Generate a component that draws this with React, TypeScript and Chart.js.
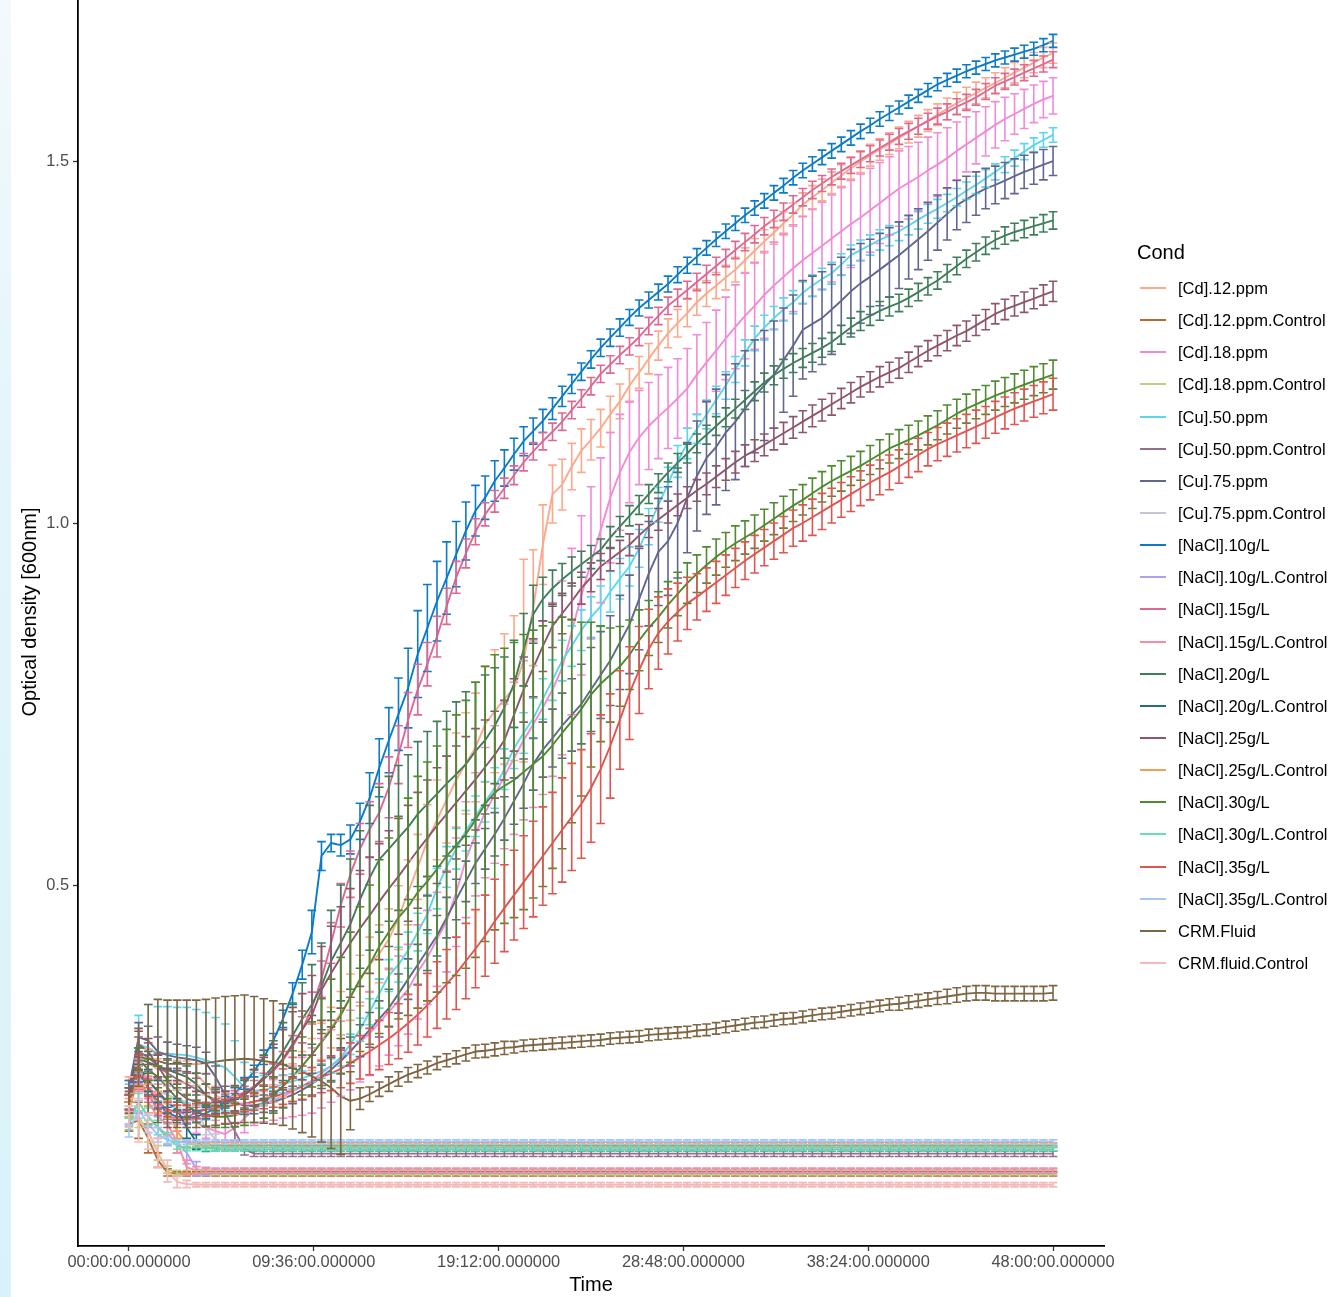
import React, { useEffect, useRef } from "react";
import { Chart, registerables } from "chart.js";

Chart.register(...registerables);

// ---------------- data ----------------
const hours = [
  0, 0.5, 1, 1.5, 2, 2.5, 3, 3.5, 4, 4.5,
  5, 5.5, 6, 6.5, 7, 7.5, 8, 8.5, 9, 9.5,
  10, 10.5, 11, 11.5, 12, 12.5, 13, 13.5, 14, 14.5,
  15, 15.5, 16, 16.5, 17, 17.5, 18, 18.5, 19, 19.5,
  20, 20.5, 21, 21.5, 22, 22.5, 23, 23.5, 24, 24.5,
  25, 25.5, 26, 26.5, 27, 27.5, 28, 28.5, 29, 29.5,
  30, 30.5, 31, 31.5, 32, 32.5, 33, 33.5, 34, 34.5,
  35, 35.5, 36, 36.5, 37, 37.5, 38, 38.5, 39, 39.5,
  40, 40.5, 41, 41.5, 42, 42.5, 43, 43.5, 44, 44.5,
  45, 45.5, 46, 46.5, 47, 47.5, 48,
];

const xTickHours = [0, 9.6, 19.2, 28.8, 38.4, 48];
const xTickLabels = [
  "00:00:00.000000",
  "09:36:00.000000",
  "19:12:00.000000",
  "28:48:00.000000",
  "38:24:00.000000",
  "48:00:00.000000",
];
const yTickValues = [0.5, 1.0, 1.5];
const yTickLabels = ["0.5", "1.0", "1.5"];

const conditions = [
  "[Cd].12.ppm",
  "[Cd].12.ppm.Control",
  "[Cd].18.ppm",
  "[Cd].18.ppm.Control",
  "[Cu].50.ppm",
  "[Cu].50.ppm.Control",
  "[Cu].75.ppm",
  "[Cu].75.ppm.Control",
  "[NaCl].10g/L",
  "[NaCl].10g/L.Control",
  "[NaCl].15g/L",
  "[NaCl].15g/L.Control",
  "[NaCl].20g/L",
  "[NaCl].20g/L.Control",
  "[NaCl].25g/L",
  "[NaCl].25g/L.Control",
  "[NaCl].30g/L",
  "[NaCl].30g/L.Control",
  "[NaCl].35g/L",
  "[NaCl].35g/L.Control",
  "CRM.Fluid",
  "CRM.fluid.Control",
];

const colors = [
  "#FCA98B", "#B8692F", "#F28AD6", "#C2CF83", "#5CD5EF", "#936F8F",
  "#62678F", "#C3C6D9", "#0B7BC9", "#A9A3F1", "#DE6892", "#FC8AA3",
  "#3E7E5A", "#22707F", "#8E566B", "#EFA253", "#4F8A2E", "#63DFB2",
  "#DF5651", "#A3C6F6", "#7E6643", "#F4B9B8",
];

// optical density values (one value per half hour)
const cd12 = [
  0.22, 0.27, 0.255, 0.245, 0.243, 0.243, 0.242, 0.238, 0.225, 0.21,
  0.202, 0.198, 0.198, 0.2, 0.205, 0.212, 0.222, 0.235, 0.25, 0.266,
  0.284, 0.303, 0.323, 0.345, 0.368, 0.39, 0.405, 0.425, 0.455, 0.49,
  0.525, 0.561, 0.59, 0.618, 0.645, 0.668, 0.69, 0.722, 0.74, 0.757,
  0.772, 0.81, 0.883, 0.97, 1.04, 1.053, 1.078, 1.1, 1.115, 1.131,
  1.15, 1.168, 1.19, 1.208, 1.227, 1.245, 1.262, 1.276, 1.29, 1.305,
  1.317, 1.328, 1.339, 1.35, 1.363, 1.376, 1.389, 1.401, 1.414, 1.426,
  1.44, 1.45, 1.46, 1.47, 1.48, 1.49, 1.499, 1.508, 1.516, 1.524,
  1.532, 1.54, 1.548, 1.556, 1.564, 1.572, 1.58, 1.587, 1.594, 1.601,
  1.608, 1.615, 1.622, 1.629, 1.636, 1.643, 1.649,
];
const cd12Ctrl = [
  0.17, 0.175, 0.15, 0.12, 0.103, 0.101, 0.101, 0.101, 0.101, 0.101,
  0.101, 0.101, 0.101, 0.101, 0.101, 0.101, 0.101, 0.101, 0.101, 0.101,
  0.101, 0.101, 0.101, 0.101, 0.101, 0.101, 0.101, 0.101, 0.101, 0.101,
  0.101, 0.101, 0.101, 0.101, 0.101, 0.101, 0.101, 0.101, 0.101, 0.101,
  0.101, 0.101, 0.101, 0.101, 0.101, 0.101, 0.101, 0.101, 0.101, 0.101,
  0.101, 0.101, 0.101, 0.101, 0.101, 0.101, 0.101, 0.101, 0.101, 0.101,
  0.101, 0.101, 0.101, 0.101, 0.101, 0.101, 0.101, 0.101, 0.101, 0.101,
  0.101, 0.101, 0.101, 0.101, 0.101, 0.101, 0.101, 0.101, 0.101, 0.101,
  0.101, 0.101, 0.101, 0.101, 0.101, 0.101, 0.101, 0.101, 0.101, 0.101,
  0.101, 0.101, 0.101, 0.101, 0.101, 0.101, 0.101,
];
const cd18 = [
  0.2, 0.24, 0.22, 0.21, 0.2, 0.19, 0.18, 0.172, 0.165, 0.16,
  0.156, 0.165, 0.178, 0.19, 0.198, 0.203, 0.208, 0.215, 0.222, 0.23,
  0.24, 0.25, 0.26, 0.272, 0.283, 0.295, 0.31, 0.325, 0.34, 0.356,
  0.38, 0.4, 0.425, 0.45, 0.49, 0.535, 0.57, 0.6, 0.625, 0.65,
  0.675, 0.7, 0.722, 0.745, 0.77, 0.8, 0.85, 0.9, 0.945, 0.99,
  1.035, 1.07, 1.098, 1.118, 1.134, 1.147, 1.159, 1.172, 1.186, 1.205,
  1.222, 1.238, 1.255, 1.271, 1.286, 1.3, 1.315, 1.328, 1.34, 1.352,
  1.363, 1.373, 1.383, 1.393, 1.403, 1.413, 1.422, 1.432, 1.442, 1.452,
  1.462, 1.47, 1.478, 1.487, 1.495, 1.504, 1.514, 1.523, 1.532, 1.541,
  1.55, 1.558, 1.565, 1.572, 1.579, 1.585, 1.59,
];
const cd18Ctrl = [
  0.175, 0.18, 0.16, 0.13, 0.107, 0.103, 0.103, 0.103, 0.103, 0.103,
  0.103, 0.103, 0.103, 0.103, 0.103, 0.103, 0.103, 0.103, 0.103, 0.103,
  0.103, 0.103, 0.103, 0.103, 0.103, 0.103, 0.103, 0.103, 0.103, 0.103,
  0.103, 0.103, 0.103, 0.103, 0.103, 0.103, 0.103, 0.103, 0.103, 0.103,
  0.103, 0.103, 0.103, 0.103, 0.103, 0.103, 0.103, 0.103, 0.103, 0.103,
  0.103, 0.103, 0.103, 0.103, 0.103, 0.103, 0.103, 0.103, 0.103, 0.103,
  0.103, 0.103, 0.103, 0.103, 0.103, 0.103, 0.103, 0.103, 0.103, 0.103,
  0.103, 0.103, 0.103, 0.103, 0.103, 0.103, 0.103, 0.103, 0.103, 0.103,
  0.103, 0.103, 0.103, 0.103, 0.103, 0.103, 0.103, 0.103, 0.103, 0.103,
  0.103, 0.103, 0.103, 0.103, 0.103, 0.103, 0.103,
];
const cu50 = [
  0.21, 0.28, 0.275, 0.267, 0.267, 0.266, 0.265, 0.262, 0.258, 0.253,
  0.248, 0.235, 0.22, 0.216, 0.217, 0.22, 0.225, 0.229, 0.233, 0.238,
  0.243, 0.25, 0.262, 0.28, 0.3, 0.325, 0.35, 0.375, 0.39, 0.41,
  0.435, 0.46, 0.495, 0.525, 0.55, 0.575, 0.595, 0.615, 0.634, 0.66,
  0.689, 0.71, 0.73, 0.757, 0.783, 0.81, 0.83, 0.852, 0.87, 0.885,
  0.905, 0.923, 0.94, 0.965, 0.995, 1.025, 1.054, 1.085, 1.11, 1.13,
  1.15, 1.17, 1.19, 1.212, 1.235, 1.255, 1.27, 1.283, 1.295, 1.305,
  1.318, 1.328, 1.337, 1.345, 1.357, 1.37, 1.377, 1.384, 1.391, 1.397,
  1.403, 1.411, 1.419, 1.427, 1.434, 1.442, 1.45, 1.459, 1.467, 1.476,
  1.485, 1.495, 1.504, 1.513, 1.522, 1.529, 1.536,
];
const cu50Ctrl = [
  0.22, 0.27, 0.262, 0.25, 0.24, 0.232, 0.225, 0.218, 0.21, 0.2,
  0.185, 0.16, 0.135, 0.129, 0.129, 0.129, 0.129, 0.129, 0.129, 0.129,
  0.129, 0.129, 0.129, 0.129, 0.129, 0.129, 0.129, 0.129, 0.129, 0.129,
  0.129, 0.129, 0.129, 0.129, 0.129, 0.129, 0.129, 0.129, 0.129, 0.129,
  0.129, 0.129, 0.129, 0.129, 0.129, 0.129, 0.129, 0.129, 0.129, 0.129,
  0.129, 0.129, 0.129, 0.129, 0.129, 0.129, 0.129, 0.129, 0.129, 0.129,
  0.129, 0.129, 0.129, 0.129, 0.129, 0.129, 0.129, 0.129, 0.129, 0.129,
  0.129, 0.129, 0.129, 0.129, 0.129, 0.129, 0.129, 0.129, 0.129, 0.129,
  0.129, 0.129, 0.129, 0.129, 0.129, 0.129, 0.129, 0.129, 0.129, 0.129,
  0.129, 0.129, 0.129, 0.129, 0.129, 0.129, 0.129,
];
const cu75 = [
  0.22, 0.29, 0.285, 0.27, 0.265, 0.262, 0.26, 0.258, 0.254, 0.235,
  0.21, 0.2, 0.195, 0.196, 0.198, 0.2, 0.205, 0.21, 0.217, 0.225,
  0.235, 0.245, 0.257, 0.27, 0.285, 0.3, 0.315, 0.33, 0.35, 0.37,
  0.39, 0.41, 0.43, 0.455, 0.48, 0.505, 0.53, 0.55, 0.57, 0.592,
  0.616, 0.64, 0.667, 0.687, 0.703, 0.72, 0.735, 0.75, 0.77, 0.79,
  0.81, 0.835, 0.86, 0.895, 0.93, 0.96, 0.975, 1.0, 1.035, 1.065,
  1.09, 1.105, 1.125, 1.14, 1.158, 1.175, 1.19, 1.205, 1.225, 1.245,
  1.267, 1.275, 1.283, 1.295, 1.307, 1.32, 1.331, 1.34, 1.35, 1.36,
  1.37, 1.381, 1.392, 1.403, 1.415, 1.427, 1.439, 1.447, 1.455, 1.462,
  1.467, 1.473, 1.479, 1.485, 1.49, 1.495, 1.5,
];
const cu75Ctrl = [
  0.2, 0.245, 0.23, 0.215, 0.21, 0.205, 0.2, 0.185, 0.165, 0.148,
  0.142, 0.14, 0.14, 0.14, 0.14, 0.14, 0.14, 0.14, 0.14, 0.14,
  0.14, 0.14, 0.14, 0.14, 0.14, 0.14, 0.14, 0.14, 0.14, 0.14,
  0.14, 0.14, 0.14, 0.14, 0.14, 0.14, 0.14, 0.14, 0.14, 0.14,
  0.14, 0.14, 0.14, 0.14, 0.14, 0.14, 0.14, 0.14, 0.14, 0.14,
  0.14, 0.14, 0.14, 0.14, 0.14, 0.14, 0.14, 0.14, 0.14, 0.14,
  0.14, 0.14, 0.14, 0.14, 0.14, 0.14, 0.14, 0.14, 0.14, 0.14,
  0.14, 0.14, 0.14, 0.14, 0.14, 0.14, 0.14, 0.14, 0.14, 0.14,
  0.14, 0.14, 0.14, 0.14, 0.14, 0.14, 0.14, 0.14, 0.14, 0.14,
  0.14, 0.14, 0.14, 0.14, 0.14, 0.14, 0.14,
];
const nacl10 = [
  0.21, 0.24, 0.22, 0.2, 0.185, 0.18, 0.178, 0.18, 0.185, 0.192,
  0.2, 0.212, 0.226, 0.243, 0.262, 0.285, 0.315, 0.35, 0.39, 0.435,
  0.54, 0.558, 0.555, 0.563, 0.588, 0.62, 0.662, 0.7, 0.736, 0.772,
  0.819, 0.855, 0.892, 0.924, 0.957, 0.989, 1.017, 1.035, 1.058, 1.076,
  1.095, 1.113, 1.127, 1.141, 1.158, 1.175, 1.192, 1.209, 1.226, 1.242,
  1.256, 1.27, 1.284, 1.297, 1.308, 1.319, 1.33, 1.343, 1.356, 1.368,
  1.38, 1.392, 1.403, 1.414, 1.425, 1.435, 1.445, 1.456, 1.466, 1.477,
  1.487, 1.496, 1.505, 1.514, 1.523, 1.532, 1.541, 1.549, 1.558, 1.566,
  1.574, 1.582, 1.59, 1.598, 1.606, 1.612, 1.618, 1.624, 1.629, 1.634,
  1.639, 1.643, 1.647, 1.651, 1.655, 1.66, 1.666,
];
const nacl10Ctrl = [
  0.18, 0.2, 0.18, 0.165, 0.155, 0.145, 0.13, 0.108, 0.105, 0.105,
  0.105, 0.105, 0.105, 0.105, 0.105, 0.105, 0.105, 0.105, 0.105, 0.105,
  0.105, 0.105, 0.105, 0.105, 0.105, 0.105, 0.105, 0.105, 0.105, 0.105,
  0.105, 0.105, 0.105, 0.105, 0.105, 0.105, 0.105, 0.105, 0.105, 0.105,
  0.105, 0.105, 0.105, 0.105, 0.105, 0.105, 0.105, 0.105, 0.105, 0.105,
  0.105, 0.105, 0.105, 0.105, 0.105, 0.105, 0.105, 0.105, 0.105, 0.105,
  0.105, 0.105, 0.105, 0.105, 0.105, 0.105, 0.105, 0.105, 0.105, 0.105,
  0.105, 0.105, 0.105, 0.105, 0.105, 0.105, 0.105, 0.105, 0.105, 0.105,
  0.105, 0.105, 0.105, 0.105, 0.105, 0.105, 0.105, 0.105, 0.105, 0.105,
  0.105, 0.105, 0.105, 0.105, 0.105, 0.105, 0.105,
];
const nacl15 = [
  0.2, 0.23, 0.21, 0.19, 0.18, 0.178, 0.18, 0.185, 0.19, 0.197,
  0.203, 0.208, 0.214, 0.222, 0.232, 0.243, 0.258, 0.277, 0.3, 0.33,
  0.37, 0.42, 0.472, 0.515, 0.55, 0.577, 0.6, 0.635, 0.68, 0.728,
  0.77, 0.805, 0.843, 0.885, 0.925, 0.958, 0.988, 1.012, 1.03, 1.048,
  1.066, 1.084, 1.099, 1.113, 1.126, 1.14, 1.156, 1.172, 1.189, 1.206,
  1.219, 1.232, 1.244, 1.257, 1.272, 1.286, 1.3, 1.311, 1.322, 1.333,
  1.344, 1.355, 1.366, 1.377, 1.388, 1.399, 1.41, 1.42, 1.43, 1.44,
  1.45, 1.46, 1.469, 1.478, 1.486, 1.494, 1.502, 1.51, 1.518, 1.526,
  1.534, 1.541, 1.548, 1.555, 1.562, 1.568, 1.575, 1.581, 1.588, 1.596,
  1.604, 1.61, 1.616, 1.622, 1.628, 1.634, 1.64,
];
const nacl15Ctrl = [
  0.19, 0.235, 0.2, 0.18, 0.17, 0.145, 0.11, 0.106, 0.106, 0.106,
  0.106, 0.106, 0.106, 0.106, 0.106, 0.106, 0.106, 0.106, 0.106, 0.106,
  0.106, 0.106, 0.106, 0.106, 0.106, 0.106, 0.106, 0.106, 0.106, 0.106,
  0.106, 0.106, 0.106, 0.106, 0.106, 0.106, 0.106, 0.106, 0.106, 0.106,
  0.106, 0.106, 0.106, 0.106, 0.106, 0.106, 0.106, 0.106, 0.106, 0.106,
  0.106, 0.106, 0.106, 0.106, 0.106, 0.106, 0.106, 0.106, 0.106, 0.106,
  0.106, 0.106, 0.106, 0.106, 0.106, 0.106, 0.106, 0.106, 0.106, 0.106,
  0.106, 0.106, 0.106, 0.106, 0.106, 0.106, 0.106, 0.106, 0.106, 0.106,
  0.106, 0.106, 0.106, 0.106, 0.106, 0.106, 0.106, 0.106, 0.106, 0.106,
  0.106, 0.106, 0.106, 0.106, 0.106, 0.106, 0.106,
];
const nacl20 = [
  0.21, 0.26, 0.255, 0.25, 0.245, 0.24, 0.235, 0.225, 0.21, 0.203,
  0.2, 0.203, 0.21, 0.22, 0.235, 0.25, 0.27, 0.292, 0.315, 0.335,
  0.36, 0.395, 0.42, 0.446, 0.48, 0.51, 0.535, 0.55, 0.565, 0.58,
  0.598, 0.612, 0.626, 0.64, 0.653, 0.667, 0.685, 0.7, 0.72, 0.745,
  0.778, 0.825, 0.874, 0.895, 0.91, 0.922, 0.933, 0.943, 0.953, 0.963,
  0.98, 0.995, 1.01, 1.025, 1.04, 1.055, 1.07, 1.083, 1.096, 1.11,
  1.122, 1.134, 1.146, 1.158, 1.17, 1.182, 1.194, 1.204, 1.213, 1.221,
  1.228, 1.235, 1.242, 1.25, 1.26, 1.27, 1.279, 1.286, 1.293, 1.299,
  1.304, 1.311, 1.319, 1.327, 1.335, 1.345, 1.355, 1.365, 1.374, 1.383,
  1.391, 1.397, 1.402, 1.406, 1.41, 1.414, 1.418,
];
const nacl20Ctrl = [
  0.2, 0.25, 0.23, 0.215, 0.2, 0.19, 0.165, 0.145, 0.137, 0.136,
  0.136, 0.136, 0.136, 0.136, 0.136, 0.136, 0.136, 0.136, 0.136, 0.136,
  0.136, 0.136, 0.136, 0.136, 0.136, 0.136, 0.136, 0.136, 0.136, 0.136,
  0.136, 0.136, 0.136, 0.136, 0.136, 0.136, 0.136, 0.136, 0.136, 0.136,
  0.136, 0.136, 0.136, 0.136, 0.136, 0.136, 0.136, 0.136, 0.136, 0.136,
  0.136, 0.136, 0.136, 0.136, 0.136, 0.136, 0.136, 0.136, 0.136, 0.136,
  0.136, 0.136, 0.136, 0.136, 0.136, 0.136, 0.136, 0.136, 0.136, 0.136,
  0.136, 0.136, 0.136, 0.136, 0.136, 0.136, 0.136, 0.136, 0.136, 0.136,
  0.136, 0.136, 0.136, 0.136, 0.136, 0.136, 0.136, 0.136, 0.136, 0.136,
  0.136, 0.136, 0.136, 0.136, 0.136, 0.136, 0.136,
];
const nacl25 = [
  0.21, 0.28, 0.27, 0.25, 0.23, 0.215, 0.205, 0.2, 0.198, 0.198,
  0.2, 0.205, 0.212, 0.22, 0.232, 0.245, 0.26, 0.28, 0.3, 0.32,
  0.355, 0.378, 0.4, 0.42, 0.44, 0.458, 0.477, 0.495, 0.512, 0.53,
  0.548, 0.565, 0.582, 0.598, 0.614, 0.63, 0.646, 0.663, 0.68, 0.7,
  0.735, 0.77, 0.8, 0.83, 0.858, 0.875, 0.892, 0.91, 0.925, 0.94,
  0.95, 0.96, 0.97, 0.983, 0.995, 1.005, 1.015, 1.025, 1.035, 1.045,
  1.054, 1.064, 1.074, 1.084, 1.093, 1.1, 1.108, 1.116, 1.124, 1.132,
  1.14, 1.148, 1.156, 1.164, 1.172, 1.18, 1.188, 1.195, 1.202, 1.208,
  1.214, 1.222, 1.23, 1.238, 1.245, 1.252, 1.259, 1.265, 1.273, 1.281,
  1.289, 1.295, 1.3, 1.305, 1.31, 1.315, 1.32,
];
const nacl25Ctrl = [
  0.19, 0.235, 0.21, 0.2, 0.19, 0.16, 0.143, 0.141, 0.141, 0.141,
  0.141, 0.141, 0.141, 0.141, 0.141, 0.141, 0.141, 0.141, 0.141, 0.141,
  0.141, 0.141, 0.141, 0.141, 0.141, 0.141, 0.141, 0.141, 0.141, 0.141,
  0.141, 0.141, 0.141, 0.141, 0.141, 0.141, 0.141, 0.141, 0.141, 0.141,
  0.141, 0.141, 0.141, 0.141, 0.141, 0.141, 0.141, 0.141, 0.141, 0.141,
  0.141, 0.141, 0.141, 0.141, 0.141, 0.141, 0.141, 0.141, 0.141, 0.141,
  0.141, 0.141, 0.141, 0.141, 0.141, 0.141, 0.141, 0.141, 0.141, 0.141,
  0.141, 0.141, 0.141, 0.141, 0.141, 0.141, 0.141, 0.141, 0.141, 0.141,
  0.141, 0.141, 0.141, 0.141, 0.141, 0.141, 0.141, 0.141, 0.141, 0.141,
  0.141, 0.141, 0.141, 0.141, 0.141, 0.141, 0.141,
];
const nacl30 = [
  0.2, 0.26, 0.245, 0.235, 0.22, 0.205, 0.195, 0.187, 0.182, 0.18,
  0.18, 0.182, 0.186, 0.192, 0.2, 0.21, 0.222, 0.236, 0.25, 0.266,
  0.283, 0.3, 0.32, 0.345, 0.37, 0.39, 0.415, 0.435, 0.455, 0.47,
  0.49, 0.505, 0.522, 0.54, 0.555, 0.57, 0.59, 0.612, 0.628, 0.637,
  0.645, 0.656, 0.667, 0.678, 0.693, 0.71, 0.726, 0.743, 0.763, 0.778,
  0.79, 0.802, 0.818, 0.838, 0.855, 0.87, 0.887, 0.902, 0.917, 0.93,
  0.942, 0.953, 0.963, 0.972, 0.98, 0.988, 0.997, 1.006, 1.015, 1.024,
  1.032, 1.041, 1.05, 1.058, 1.065, 1.072, 1.079, 1.087, 1.095, 1.103,
  1.109, 1.115, 1.121, 1.128, 1.135, 1.143, 1.151, 1.158, 1.164, 1.17,
  1.176, 1.181, 1.186, 1.191, 1.196, 1.2, 1.205,
];
const nacl30Ctrl = [
  0.17, 0.2, 0.18, 0.165, 0.15, 0.14, 0.136, 0.136, 0.136, 0.136,
  0.136, 0.136, 0.136, 0.136, 0.136, 0.136, 0.136, 0.136, 0.136, 0.136,
  0.136, 0.136, 0.136, 0.136, 0.136, 0.136, 0.136, 0.136, 0.136, 0.136,
  0.136, 0.136, 0.136, 0.136, 0.136, 0.136, 0.136, 0.136, 0.136, 0.136,
  0.136, 0.136, 0.136, 0.136, 0.136, 0.136, 0.136, 0.136, 0.136, 0.136,
  0.136, 0.136, 0.136, 0.136, 0.136, 0.136, 0.136, 0.136, 0.136, 0.136,
  0.136, 0.136, 0.136, 0.136, 0.136, 0.136, 0.136, 0.136, 0.136, 0.136,
  0.136, 0.136, 0.136, 0.136, 0.136, 0.136, 0.136, 0.136, 0.136, 0.136,
  0.136, 0.136, 0.136, 0.136, 0.136, 0.136, 0.136, 0.136, 0.136, 0.136,
  0.136, 0.136, 0.136, 0.136, 0.136, 0.136, 0.136,
];
const nacl35 = [
  0.2, 0.25, 0.22, 0.2, 0.19, 0.186, 0.186, 0.188, 0.19, 0.192,
  0.194, 0.196, 0.198, 0.201, 0.204, 0.207, 0.212, 0.217, 0.222, 0.228,
  0.235, 0.24, 0.246, 0.254, 0.262, 0.27, 0.279, 0.288, 0.298, 0.309,
  0.321, 0.334, 0.348, 0.363, 0.378, 0.395, 0.412, 0.43, 0.45, 0.468,
  0.486, 0.504, 0.522, 0.54, 0.558, 0.576, 0.594, 0.612, 0.634, 0.66,
  0.692, 0.728, 0.765, 0.797, 0.826, 0.848, 0.864, 0.877, 0.889, 0.898,
  0.908, 0.918, 0.928, 0.938, 0.948, 0.957, 0.966, 0.975, 0.984, 0.993,
  1.0, 1.008, 1.016, 1.024, 1.032, 1.04, 1.048, 1.056, 1.063, 1.07,
  1.078, 1.086, 1.094, 1.102, 1.109, 1.115, 1.121, 1.127, 1.133, 1.139,
  1.146, 1.152, 1.158, 1.163, 1.168, 1.173, 1.178,
];
const nacl35Ctrl = [
  0.16, 0.19, 0.17, 0.155, 0.148, 0.145, 0.145, 0.145, 0.145, 0.145,
  0.145, 0.145, 0.145, 0.145, 0.145, 0.145, 0.145, 0.145, 0.145, 0.145,
  0.145, 0.145, 0.145, 0.145, 0.145, 0.145, 0.145, 0.145, 0.145, 0.145,
  0.145, 0.145, 0.145, 0.145, 0.145, 0.145, 0.145, 0.145, 0.145, 0.145,
  0.145, 0.145, 0.145, 0.145, 0.145, 0.145, 0.145, 0.145, 0.145, 0.145,
  0.145, 0.145, 0.145, 0.145, 0.145, 0.145, 0.145, 0.145, 0.145, 0.145,
  0.145, 0.145, 0.145, 0.145, 0.145, 0.145, 0.145, 0.145, 0.145, 0.145,
  0.145, 0.145, 0.145, 0.145, 0.145, 0.145, 0.145, 0.145, 0.145, 0.145,
  0.145, 0.145, 0.145, 0.145, 0.145, 0.145, 0.145, 0.145, 0.145, 0.145,
  0.145, 0.145, 0.145, 0.145, 0.145, 0.145, 0.145,
];
const crmFluid = [
  0.2, 0.262, 0.26, 0.257, 0.253, 0.253, 0.253, 0.253, 0.254, 0.256,
  0.258, 0.259, 0.26, 0.259, 0.257, 0.255, 0.252, 0.247, 0.242, 0.236,
  0.229, 0.22, 0.208, 0.202, 0.205, 0.211, 0.218, 0.225, 0.232, 0.238,
  0.243, 0.248, 0.254, 0.258, 0.262, 0.266, 0.27, 0.271, 0.273, 0.275,
  0.276, 0.278, 0.279, 0.28, 0.281, 0.282, 0.283, 0.284, 0.285, 0.286,
  0.288, 0.289, 0.29, 0.291, 0.293, 0.294, 0.295, 0.296, 0.297, 0.299,
  0.3, 0.302, 0.304, 0.306, 0.308, 0.31, 0.311, 0.313, 0.315, 0.316,
  0.318, 0.32, 0.322, 0.323, 0.325, 0.327, 0.329, 0.331, 0.333, 0.335,
  0.336, 0.338, 0.34, 0.342, 0.344, 0.346, 0.348, 0.35, 0.351, 0.351,
  0.35, 0.35, 0.35, 0.35, 0.35, 0.35, 0.351,
];
const crmFluidCtrl = [
  0.18, 0.175, 0.16, 0.13, 0.105, 0.09, 0.087, 0.086, 0.086, 0.086,
  0.086, 0.086, 0.086, 0.086, 0.086, 0.086, 0.086, 0.086, 0.086, 0.086,
  0.086, 0.086, 0.086, 0.086, 0.086, 0.086, 0.086, 0.086, 0.086, 0.086,
  0.086, 0.086, 0.086, 0.086, 0.086, 0.086, 0.086, 0.086, 0.086, 0.086,
  0.086, 0.086, 0.086, 0.086, 0.086, 0.086, 0.086, 0.086, 0.086, 0.086,
  0.086, 0.086, 0.086, 0.086, 0.086, 0.086, 0.086, 0.086, 0.086, 0.086,
  0.086, 0.086, 0.086, 0.086, 0.086, 0.086, 0.086, 0.086, 0.086, 0.086,
  0.086, 0.086, 0.086, 0.086, 0.086, 0.086, 0.086, 0.086, 0.086, 0.086,
  0.086, 0.086, 0.086, 0.086, 0.086, 0.086, 0.086, 0.086, 0.086, 0.086,
  0.086, 0.086, 0.086, 0.086, 0.086, 0.086, 0.086,
];

// error half-widths, in thousandths of an OD unit
const ERR_UNIT = 0.001;
const cd12Err = [
  15, 20, 18, 15, 15, 15, 15, 15, 15, 12,
  10, 10, 10, 10, 10, 12, 15, 18, 20, 22,
  25, 28, 30, 32, 35, 38, 40, 42, 44, 45,
  45, 50, 55, 60, 65, 70, 75, 80, 85, 90,
  100, 140, 80, 55, 40, 35, 32, 30, 28, 26,
  25, 24, 23, 22, 21, 20, 20, 19, 19, 18,
  18, 18, 17, 17, 17, 17, 16, 16, 16, 16,
  16, 16, 15, 15, 15, 15, 15, 15, 15, 15,
  15, 15, 15, 15, 15, 15, 15, 15, 15, 14,
  14, 14, 14, 14, 14, 14, 14,
];
const cd12CtrlErr = [
  10, 25, 20, 10, 5, 3, 3, 3, 3, 3,
  3, 3, 3, 3, 3, 3, 3, 3, 3, 3,
  3, 3, 3, 3, 3, 3, 3, 3, 3, 3,
  3, 3, 3, 3, 3, 3, 3, 3, 3, 3,
  3, 3, 3, 3, 3, 3, 3, 3, 3, 3,
  3, 3, 3, 3, 3, 3, 3, 3, 3, 3,
  3, 3, 3, 3, 3, 3, 3, 3, 3, 3,
  3, 3, 3, 3, 3, 3, 3, 3, 3, 3,
  3, 3, 3, 3, 3, 3, 3, 3, 3, 3,
  3, 3, 3, 3, 3, 3, 3,
];
const cd18Err = [
  12, 15, 15, 15, 15, 15, 15, 15, 15, 15,
  15, 18, 20, 22, 25, 28, 30, 35, 40, 45,
  48, 50, 52, 55, 55, 58, 60, 60, 62, 62,
  65, 65, 65, 70, 75, 80, 85, 90, 95, 100,
  105, 110, 115, 120, 120, 120, 115, 110, 105, 100,
  90, 80, 70, 65, 60, 58, 56, 55, 55, 55,
  55, 56, 57, 58, 59, 60, 60, 60, 60, 60,
  60, 60, 60, 60, 60, 60, 60, 58, 56, 54,
  52, 50, 48, 46, 44, 42, 40, 38, 36, 34,
  32, 30, 28, 27, 26, 25, 25,
];
const cd18CtrlErr = [
  8, 15, 15, 10, 5, 3, 3, 3, 3, 3,
  3, 3, 3, 3, 3, 3, 3, 3, 3, 3,
  3, 3, 3, 3, 3, 3, 3, 3, 3, 3,
  3, 3, 3, 3, 3, 3, 3, 3, 3, 3,
  3, 3, 3, 3, 3, 3, 3, 3, 3, 3,
  3, 3, 3, 3, 3, 3, 3, 3, 3, 3,
  3, 3, 3, 3, 3, 3, 3, 3, 3, 3,
  3, 3, 3, 3, 3, 3, 3, 3, 3, 3,
  3, 3, 3, 3, 3, 3, 3, 3, 3, 3,
  3, 3, 3, 3, 3, 3, 3,
];
const cu50Err = [
  15, 40, 60, 65, 65, 65, 66, 66, 66, 64,
  60, 50, 35, 25, 20, 15, 12, 10, 10, 10,
  10, 10, 12, 14, 16, 18, 20, 22, 24, 25,
  26, 27, 28, 28, 28, 28, 28, 28, 28, 28,
  28, 28, 28, 28, 28, 28, 28, 28, 28, 28,
  28, 28, 27, 26, 25, 24, 23, 22, 21, 20,
  20, 19, 19, 18, 18, 17, 17, 16, 16, 16,
  15, 15, 15, 15, 15, 14, 14, 14, 14, 14,
  13, 13, 13, 13, 13, 12, 12, 12, 12, 12,
  11, 11, 11, 11, 10, 10, 10,
];
const cu50CtrlErr = [
  10, 20, 20, 18, 18, 15, 15, 15, 15, 15,
  15, 12, 8, 4, 4, 4, 4, 4, 4, 4,
  4, 4, 4, 4, 4, 4, 4, 4, 4, 4,
  4, 4, 4, 4, 4, 4, 4, 4, 4, 4,
  4, 4, 4, 4, 4, 4, 4, 4, 4, 4,
  4, 4, 4, 4, 4, 4, 4, 4, 4, 4,
  4, 4, 4, 4, 4, 4, 4, 4, 4, 4,
  4, 4, 4, 4, 4, 4, 4, 4, 4, 4,
  4, 4, 4, 4, 4, 4, 4, 4, 4, 4,
  4, 4, 4, 4, 4, 4, 4,
];
const cu75Err = [
  10, 20, 20, 20, 18, 18, 18, 18, 15, 15,
  12, 12, 12, 12, 12, 12, 12, 12, 14, 15,
  16, 17, 18, 20, 22, 24, 25, 26, 27, 28,
  28, 28, 28, 28, 28, 28, 28, 28, 30, 30,
  32, 34, 36, 38, 40, 45, 50, 55, 58, 60,
  62, 65, 68, 70, 72, 74, 75, 76, 76, 76,
  78, 80, 80, 80, 80, 78, 76, 74, 72, 70,
  68, 66, 64, 62, 60, 58, 55, 52, 50, 48,
  46, 44, 42, 40, 38, 36, 34, 32, 30, 28,
  26, 25, 24, 23, 22, 21, 20,
];
const cu75CtrlErr = [
  10, 15, 15, 15, 12, 12, 12, 12, 10, 8,
  5, 3, 3, 3, 3, 3, 3, 3, 3, 3,
  3, 3, 3, 3, 3, 3, 3, 3, 3, 3,
  3, 3, 3, 3, 3, 3, 3, 3, 3, 3,
  3, 3, 3, 3, 3, 3, 3, 3, 3, 3,
  3, 3, 3, 3, 3, 3, 3, 3, 3, 3,
  3, 3, 3, 3, 3, 3, 3, 3, 3, 3,
  3, 3, 3, 3, 3, 3, 3, 3, 3, 3,
  3, 3, 3, 3, 3, 3, 3, 3, 3, 3,
  3, 3, 3, 3, 3, 3, 3,
];
const nacl10Err = [
  10, 12, 10, 8, 8, 8, 8, 8, 8, 8,
  8, 8, 8, 8, 10, 10, 12, 15, 20, 30,
  20, 12, 15, 20, 25, 35, 40, 45, 50, 55,
  60, 60, 55, 50, 45, 40, 35, 30, 28, 25,
  22, 20, 18, 16, 15, 14, 13, 12, 12, 12,
  12, 12, 11, 11, 11, 11, 11, 11, 11, 11,
  10, 10, 10, 10, 10, 10, 10, 10, 10, 10,
  10, 10, 10, 10, 10, 10, 10, 10, 10, 10,
  9, 9, 9, 9, 9, 9, 9, 9, 9, 9,
  9, 9, 9, 9, 9, 9, 9,
];
const nacl10CtrlErr = [
  10, 15, 15, 15, 15, 15, 15, 10, 5, 3,
  3, 3, 3, 3, 3, 3, 3, 3, 3, 3,
  3, 3, 3, 3, 3, 3, 3, 3, 3, 3,
  3, 3, 3, 3, 3, 3, 3, 3, 3, 3,
  3, 3, 3, 3, 3, 3, 3, 3, 3, 3,
  3, 3, 3, 3, 3, 3, 3, 3, 3, 3,
  3, 3, 3, 3, 3, 3, 3, 3, 3, 3,
  3, 3, 3, 3, 3, 3, 3, 3, 3, 3,
  3, 3, 3, 3, 3, 3, 3, 3, 3, 3,
  3, 3, 3, 3, 3, 3, 3,
];
const nacl15Err = [
  10, 12, 10, 8, 8, 8, 8, 8, 8, 8,
  8, 8, 8, 8, 8, 10, 12, 15, 18, 22,
  25, 28, 30, 32, 35, 38, 40, 42, 40, 38,
  35, 30, 28, 25, 22, 20, 18, 16, 15, 14,
  13, 12, 12, 12, 12, 12, 12, 12, 12, 12,
  12, 12, 12, 12, 12, 12, 12, 12, 12, 12,
  12, 12, 12, 12, 12, 12, 12, 12, 12, 12,
  12, 12, 11, 11, 11, 11, 11, 11, 11, 11,
  11, 11, 11, 11, 11, 11, 11, 11, 11, 11,
  11, 11, 11, 11, 11, 11, 11,
];
const nacl15CtrlErr = [
  10, 20, 15, 15, 15, 15, 10, 5, 3, 3,
  3, 3, 3, 3, 3, 3, 3, 3, 3, 3,
  3, 3, 3, 3, 3, 3, 3, 3, 3, 3,
  3, 3, 3, 3, 3, 3, 3, 3, 3, 3,
  3, 3, 3, 3, 3, 3, 3, 3, 3, 3,
  3, 3, 3, 3, 3, 3, 3, 3, 3, 3,
  3, 3, 3, 3, 3, 3, 3, 3, 3, 3,
  3, 3, 3, 3, 3, 3, 3, 3, 3, 3,
  3, 3, 3, 3, 3, 3, 3, 3, 3, 3,
  3, 3, 3, 3, 3, 3, 3,
];
const nacl20Err = [
  10, 15, 15, 15, 15, 15, 15, 15, 15, 15,
  15, 18, 20, 25, 30, 35, 40, 45, 50, 55,
  60, 70, 80, 90, 95, 100, 100, 100, 100, 100,
  100, 100, 100, 100, 100, 100, 95, 90, 80, 70,
  60, 50, 40, 30, 25, 22, 20, 18, 16, 15,
  15, 14, 14, 13, 13, 13, 13, 13, 13, 13,
  13, 13, 13, 13, 13, 13, 13, 13, 13, 13,
  13, 13, 13, 13, 13, 13, 13, 13, 13, 13,
  12, 12, 12, 12, 12, 12, 12, 12, 12, 12,
  12, 12, 12, 12, 12, 12, 12,
];
const nacl20CtrlErr = [
  10, 15, 15, 15, 15, 15, 15, 10, 5, 3,
  3, 3, 3, 3, 3, 3, 3, 3, 3, 3,
  3, 3, 3, 3, 3, 3, 3, 3, 3, 3,
  3, 3, 3, 3, 3, 3, 3, 3, 3, 3,
  3, 3, 3, 3, 3, 3, 3, 3, 3, 3,
  3, 3, 3, 3, 3, 3, 3, 3, 3, 3,
  3, 3, 3, 3, 3, 3, 3, 3, 3, 3,
  3, 3, 3, 3, 3, 3, 3, 3, 3, 3,
  3, 3, 3, 3, 3, 3, 3, 3, 3, 3,
  3, 3, 3, 3, 3, 3, 3,
];
const nacl25Err = [
  10, 18, 18, 15, 15, 15, 15, 15, 15, 15,
  15, 18, 20, 25, 30, 35, 40, 45, 50, 55,
  60, 65, 70, 75, 80, 80, 80, 80, 80, 80,
  80, 80, 80, 80, 78, 75, 70, 65, 60, 55,
  50, 45, 40, 35, 30, 28, 25, 22, 20, 18,
  16, 16, 15, 15, 15, 15, 15, 15, 15, 15,
  15, 15, 15, 15, 15, 15, 15, 15, 15, 15,
  15, 15, 15, 15, 14, 14, 14, 14, 14, 14,
  14, 14, 14, 14, 14, 14, 14, 14, 14, 14,
  14, 14, 14, 14, 14, 14, 14,
];
const nacl25CtrlErr = [
  10, 15, 15, 15, 12, 10, 5, 3, 3, 3,
  3, 3, 3, 3, 3, 3, 3, 3, 3, 3,
  3, 3, 3, 3, 3, 3, 3, 3, 3, 3,
  3, 3, 3, 3, 3, 3, 3, 3, 3, 3,
  3, 3, 3, 3, 3, 3, 3, 3, 3, 3,
  3, 3, 3, 3, 3, 3, 3, 3, 3, 3,
  3, 3, 3, 3, 3, 3, 3, 3, 3, 3,
  3, 3, 3, 3, 3, 3, 3, 3, 3, 3,
  3, 3, 3, 3, 3, 3, 3, 3, 3, 3,
  3, 3, 3, 3, 3, 3, 3,
];
const nacl30Err = [
  10, 15, 15, 15, 15, 15, 15, 15, 15, 15,
  15, 16, 18, 20, 22, 25, 30, 35, 40, 45,
  60, 70, 80, 90, 100, 110, 120, 130, 140, 150,
  160, 165, 170, 175, 180, 185, 190, 190, 190, 190,
  190, 190, 185, 180, 170, 160, 140, 120, 100, 80,
  65, 55, 48, 42, 38, 35, 32, 30, 28, 26,
  25, 25, 24, 24, 23, 23, 22, 22, 22, 22,
  21, 21, 21, 21, 21, 20, 20, 20, 20, 20,
  20, 20, 20, 20, 20, 20, 20, 20, 20, 20,
  20, 20, 20, 20, 20, 20, 20,
];
const nacl30CtrlErr = [
  8, 12, 12, 10, 8, 5, 3, 3, 3, 3,
  3, 3, 3, 3, 3, 3, 3, 3, 3, 3,
  3, 3, 3, 3, 3, 3, 3, 3, 3, 3,
  3, 3, 3, 3, 3, 3, 3, 3, 3, 3,
  3, 3, 3, 3, 3, 3, 3, 3, 3, 3,
  3, 3, 3, 3, 3, 3, 3, 3, 3, 3,
  3, 3, 3, 3, 3, 3, 3, 3, 3, 3,
  3, 3, 3, 3, 3, 3, 3, 3, 3, 3,
  3, 3, 3, 3, 3, 3, 3, 3, 3, 3,
  3, 3, 3, 3, 3, 3, 3,
];
const nacl35Err = [
  10, 15, 12, 10, 10, 10, 10, 10, 10, 10,
  10, 10, 11, 12, 13, 14, 15, 16, 18, 20,
  22, 24, 26, 28, 30, 32, 34, 36, 38, 40,
  42, 44, 46, 48, 50, 52, 54, 56, 58, 60,
  62, 64, 66, 68, 70, 72, 74, 75, 75, 75,
  72, 68, 64, 60, 55, 50, 45, 40, 36, 32,
  30, 29, 28, 27, 26, 26, 25, 25, 25, 25,
  25, 25, 25, 24, 24, 24, 24, 24, 24, 24,
  23, 23, 23, 23, 23, 23, 23, 23, 23, 22,
  22, 22, 22, 22, 22, 22, 22,
];
const nacl35CtrlErr = [
  8, 12, 12, 10, 5, 3, 3, 3, 3, 3,
  3, 3, 3, 3, 3, 3, 3, 3, 3, 3,
  3, 3, 3, 3, 3, 3, 3, 3, 3, 3,
  3, 3, 3, 3, 3, 3, 3, 3, 3, 3,
  3, 3, 3, 3, 3, 3, 3, 3, 3, 3,
  3, 3, 3, 3, 3, 3, 3, 3, 3, 3,
  3, 3, 3, 3, 3, 3, 3, 3, 3, 3,
  3, 3, 3, 3, 3, 3, 3, 3, 3, 3,
  3, 3, 3, 3, 3, 3, 3, 3, 3, 3,
  3, 3, 3, 3, 3, 3, 3,
];
const crmFluidErr = [
  15, 40, 75, 85, 88, 88, 88, 88, 88, 88,
  88, 88, 88, 87, 86, 85, 84, 84, 84, 84,
  84, 84, 80, 40, 15, 10, 10, 10, 10, 10,
  9, 9, 9, 9, 9, 9, 9, 9, 9, 9,
  8, 8, 8, 8, 8, 8, 8, 8, 8, 8,
  8, 8, 8, 8, 8, 8, 8, 8, 8, 8,
  8, 8, 8, 8, 8, 8, 8, 8, 8, 8,
  8, 8, 8, 8, 8, 8, 8, 8, 8, 8,
  9, 9, 9, 9, 9, 10, 10, 10, 10, 10,
  10, 10, 10, 10, 10, 10, 10,
];
const crmFluidCtrlErr = [
  15, 30, 25, 20, 15, 8, 5, 3, 3, 3,
  3, 3, 3, 3, 3, 3, 3, 3, 3, 3,
  3, 3, 3, 3, 3, 3, 3, 3, 3, 3,
  3, 3, 3, 3, 3, 3, 3, 3, 3, 3,
  3, 3, 3, 3, 3, 3, 3, 3, 3, 3,
  3, 3, 3, 3, 3, 3, 3, 3, 3, 3,
  3, 3, 3, 3, 3, 3, 3, 3, 3, 3,
  3, 3, 3, 3, 3, 3, 3, 3, 3, 3,
  3, 3, 3, 3, 3, 3, 3, 3, 3, 3,
  3, 3, 3, 3, 3, 3, 3,
];

const seriesValues = [
  cd12, cd12Ctrl, cd18, cd18Ctrl, cu50, cu50Ctrl, cu75, cu75Ctrl,
  nacl10, nacl10Ctrl, nacl15, nacl15Ctrl, nacl20, nacl20Ctrl,
  nacl25, nacl25Ctrl, nacl30, nacl30Ctrl, nacl35, nacl35Ctrl,
  crmFluid, crmFluidCtrl,
];
const seriesErrors = [
  cd12Err, cd12CtrlErr, cd18Err, cd18CtrlErr, cu50Err, cu50CtrlErr,
  cu75Err, cu75CtrlErr, nacl10Err, nacl10CtrlErr, nacl15Err, nacl15CtrlErr,
  nacl20Err, nacl20CtrlErr, nacl25Err, nacl25CtrlErr, nacl30Err,
  nacl30CtrlErr, nacl35Err, nacl35CtrlErr, crmFluidErr, crmFluidCtrlErr,
];

// ---------------- layout constants ----------------
const X_MIN = -2.6475;
const X_MAX = 50.6475;
const Y_MIN = 0.0014;
const Y_MAX = 1.7528;
const CAP_HALF_HOURS = 0.225;
const FONT = "'Liberation Sans', Arial, Helvetica, sans-serif";

const errorBarPlugin = {
  id: "errorBars",
  afterDatasetsDraw(chart: any) {
    const { ctx, chartArea } = chart;
    const xs = chart.scales.x;
    const ys = chart.scales.y;
    ctx.save();
    ctx.beginPath();
    ctx.rect(chartArea.left, chartArea.top, chartArea.right - chartArea.left, chartArea.bottom - chartArea.top);
    ctx.clip();
    ctx.lineWidth = 1.6;
    ctx.lineCap = "butt";
    chart.data.datasets.forEach((ds: any) => {
      const errs: number[] = ds.errors;
      if (!errs) return;
      ctx.strokeStyle = ds.borderColor;
      ctx.beginPath();
      ds.data.forEach((p: any, i: number) => {
        const e = (errs[i] || 0) * ERR_UNIT;
        const xc = xs.getPixelForValue(p.x);
        const xl = xs.getPixelForValue(p.x - CAP_HALF_HOURS);
        const xr = xs.getPixelForValue(p.x + CAP_HALF_HOURS);
        const yt = ys.getPixelForValue(p.y + e);
        const yb = ys.getPixelForValue(p.y - e);
        ctx.moveTo(xl, yt);
        ctx.lineTo(xr, yt);
        ctx.moveTo(xc, yt);
        ctx.lineTo(xc, yb);
        ctx.moveTo(xl, yb);
        ctx.lineTo(xr, yb);
      });
      ctx.stroke();
    });
    ctx.restore();
  },
};

function ChartCanvas() {
  const ref = useRef<HTMLCanvasElement | null>(null);
  useEffect(() => {
    if (!ref.current) return;
    Chart.defaults.font.family = FONT;
    const datasets = conditions.map((name, i) => ({
      label: name,
      data: hours.map((h, j) => ({ x: h, y: seriesValues[i][j] })),
      errors: seriesErrors[i],
      borderColor: colors[i],
      backgroundColor: colors[i],
      borderWidth: 1.9,
      borderJoinStyle: "round",
      pointRadius: 0,
      pointHoverRadius: 0,
      tension: 0,
      fill: false,
      order: conditions.length - i,
    }));
    const chart = new Chart(ref.current, {
      type: "line",
      data: { datasets } as any,
      options: {
        animation: false,
        responsive: false,
        maintainAspectRatio: false,
        events: [],
        layout: { padding: { left: 0, top: 0, right: 228, bottom: 0 } },
        plugins: { legend: { display: false }, tooltip: { enabled: false } },
        scales: {
          x: {
            type: "linear",
            min: X_MIN,
            max: X_MAX,
            afterBuildTicks: (s: any) => {
              s.ticks = xTickHours.map((v) => ({ value: v }));
            },
            afterFit: (s: any) => {
              s.height = 52;
              s.paddingLeft = 0;
              s.paddingRight = 0;
            },
            ticks: {
              autoSkip: false,
              maxRotation: 0,
              minRotation: 0,
              padding: 2,
              color: "#4D4D4D",
              font: { size: 16.4 },
              callback: (_v: any, i: number) => xTickLabels[i],
            },
            grid: {
              drawOnChartArea: false,
              drawTicks: true,
              tickLength: 5,
              tickWidth: 1.3,
              tickColor: "#333333",
            },
            border: { display: true, color: "#000000", width: 1.8 },
            title: {
              display: true,
              text: "Time",
              color: "#000000",
              font: { size: 20 },
              padding: { top: 0, bottom: 1 },
            },
          },
          y: {
            type: "linear",
            min: Y_MIN,
            max: Y_MAX,
            afterBuildTicks: (s: any) => {
              s.ticks = yTickValues.map((v) => ({ value: v }));
            },
            afterFit: (s: any) => {
              s.width = 78;
              s.paddingTop = 0;
              s.paddingBottom = 0;
            },
            ticks: {
              padding: 4,
              color: "#4D4D4D",
              font: { size: 16.4 },
              callback: (_v: any, i: number) => yTickLabels[i],
            },
            grid: {
              drawOnChartArea: false,
              drawTicks: true,
              tickLength: 5,
              tickWidth: 1.3,
              tickColor: "#333333",
            },
            border: { display: true, color: "#000000", width: 1.8 },
            title: {
              display: true,
              text: "Optical density [600nm]",
              color: "#000000",
              font: { size: 20 },
              padding: { top: 18, bottom: 0 },
            },
          },
        },
      } as any,
      plugins: [errorBarPlugin as any],
    });
    return () => chart.destroy();
  }, []);
  return (
    <canvas
      ref={ref}
      width={1332}
      height={1320}
      style={{ position: "absolute", left: 0, top: -22, width: 1332, height: 1320, display: "block" }}
    />
  );
}

function Legend() {
  const rowTop = 288;
  const rowStep = 32.14;
  return (
    <div style={{ position: "absolute", left: 0, top: 0, fontFamily: FONT }}>
      <div
        style={{
          position: "absolute",
          left: 1137,
          top: 240,
          fontSize: 20,
          lineHeight: "24px",
          color: "#000",
          whiteSpace: "nowrap",
        }}
      >
        Cond
      </div>
      {conditions.map((c, i) => {
        const cy = rowTop + i * rowStep;
        return (
          <React.Fragment key={c}>
            <div
              style={{
                position: "absolute",
                left: 1140,
                top: cy - 1,
                width: 26,
                height: 2,
                background: colors[i],
              }}
            />
            <div
              style={{
                position: "absolute",
                left: 1178,
                top: cy - 10,
                fontSize: 16.5,
                lineHeight: "20px",
                color: "#000",
                whiteSpace: "nowrap",
              }}
            >
              {c}
            </div>
          </React.Fragment>
        );
      })}
    </div>
  );
}

export default function App() {
  return (
    <div style={{ position: "absolute", left: 0, top: 0, width: 1332, height: 1297, overflow: "hidden", background: "#ffffff" }}>
      <div
        style={{
          position: "absolute",
          left: 0,
          top: 0,
          width: 11,
          height: 1297,
          background: "linear-gradient(#f3f9fd, #e3f5fb 35%, #d9f2f9)",
        }}
      />
      <ChartCanvas />
      <Legend />
    </div>
  );
}
